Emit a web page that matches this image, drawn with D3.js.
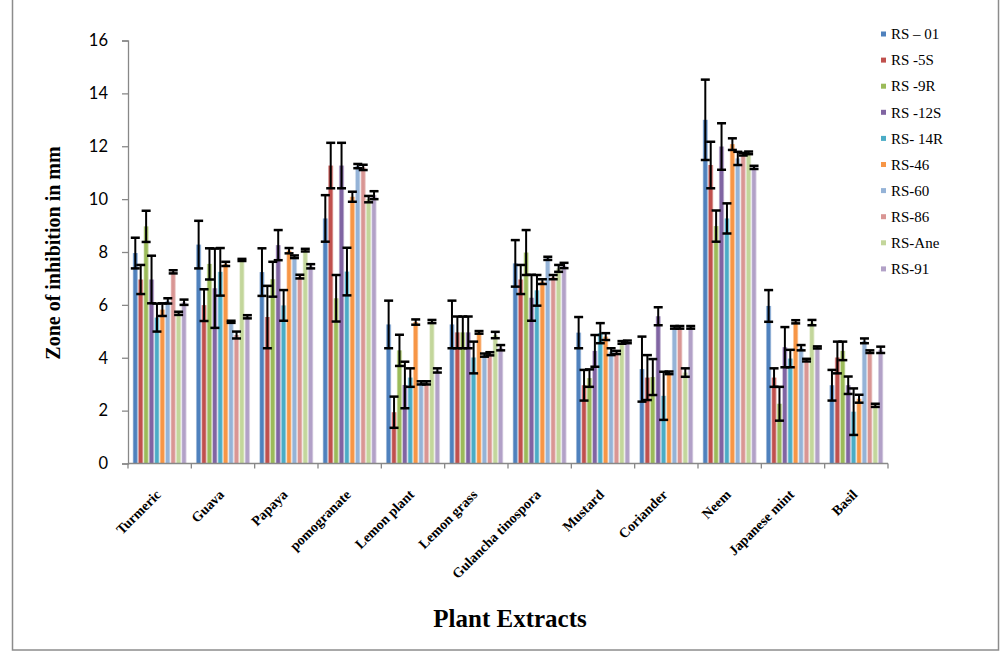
<!DOCTYPE html>
<html>
<head>
<meta charset="utf-8">
<style>
  body { margin: 0; background: #fff; }
  svg { display: block; }
  .ytick text { font-family: Lato, "Open Sans", sans-serif; font-size: 16.5px; fill: #000; }
  .xlab { font-family: "Liberation Serif", "Times New Roman", serif; font-weight: bold; font-size: 14px; }
  .legend text { font-family: "Liberation Serif", "Times New Roman", serif; font-size: 15px; }
</style>
</head>
<body>
<svg id="chart" width="1003" height="658"></svg>
<script src="https://cdnjs.cloudflare.com/ajax/libs/d3/7.8.5/d3.min.js"></script>
<script>
const categories = ["Turmeric", "Guava", "Papaya", "pomogranate", "Lemon plant", "Lemon grass",
  "Gulancha tinospora", "Mustard", "Coriander", "Neem", "Japanese mint", "Basil"];
const seriesNames = ["RS \u2013 01", "RS -5S", "RS -9R", "RS -12S", "RS- 14R", "RS-46", "RS-60", "RS-86", "RS-Ane", "RS-91"];
const seriesColors = ["#4F81BD", "#C0504D", "#9BBB59", "#8064A2", "#4BACC6", "#F79646", "#95B3D7", "#D99694", "#C3D69B", "#B2A1C7"];
const yTicks = [0, 2, 4, 6, 8, 10, 12, 14, 16];

// mean values per series (one per category)
const rs01  = [7.96, 8.28, 7.24, 9.27, 5.26, 5.26, 7.57, 4.95, 3.57, 13.0, 5.96, 2.96];
const rs5s  = [6.96, 5.99, 5.54, 11.27, 1.94, 4.96, 6.96, 2.96, 3.25, 11.29, 3.25, 4.01];
const rs9r  = [8.97, 7.55, 6.97, 6.25, 4.28, 4.96, 7.98, 3.23, 3.27, 8.98, 2.26, 4.26];
const rs12s = [6.96, 6.63, 8.26, 11.27, 2.97, 4.96, 6.27, 4.26, 5.57, 11.99, 4.4, 2.96];
const rs14r = [5.52, 7.25, 5.98, 7.26, 3.25, 4.01, 6.55, 4.93, 2.56, 9.27, 3.97, 1.96];
const rs46  = [5.82, 7.55, 8.05, 10.09, 5.35, 4.96, 6.88, 4.8, 3.43, 12.08, 5.36, 2.45];
const rs60  = [6.15, 5.36, 7.82, 11.25, 3.05, 4.1, 7.76, 4.23, 5.15, 11.54, 4.38, 4.64];
const rs86  = [7.25, 4.86, 7.07, 11.2, 3.05, 4.15, 7.05, 4.2, 5.15, 11.7, 3.91, 4.23];
const rsAne = [5.68, 7.7, 8.07, 10.0, 5.37, 4.86, 7.38, 4.58, 3.44, 11.75, 5.33, 2.2];
const rs91  = [6.1, 5.55, 7.46, 10.15, 3.52, 4.38, 7.49, 4.6, 5.15, 11.2, 4.39, 4.3];

// error (+/-) per series
const err01  = [0.58, 0.9, 0.9, 0.88, 0.9, 0.9, 0.88, 0.59, 1.23, 1.52, 0.6, 0.58];
const err5s  = [0.55, 0.6, 1.18, 0.86, 0.59, 0.6, 0.55, 0.58, 0.85, 0.88, 0.35, 0.6];
const err9r  = [0.59, 0.59, 0.66, 0.88, 0.59, 0.6, 0.85, 0.33, 0.68, 0.59, 0.64, 0.35];
const err12s = [0.9, 1.5, 0.57, 0.86, 0.88, 0.6, 0.87, 0.6, 0.34, 0.88, 0.76, 0.33];
const err14r = [0.53, 0.9, 0.58, 0.9, 0.35, 0.6, 0.58, 0.38, 0.91, 0.57, 0.33, 0.88];
const err46  = [0.24, 0.08, 0.1, 0.19, 0.1, 0.05, 0.09, 0.13, 0.05, 0.22, 0.06, 0.15];
const err60  = [0.1, 0.04, 0.05, 0.08, 0.06, 0.06, 0.06, 0.13, 0.05, 0.25, 0.1, 0.09];
const err86  = [0.06, 0.13, 0.07, 0.1, 0.06, 0.06, 0.08, 0.06, 0.05, 0.05, 0.05, 0.05];
const errAne = [0.06, 0.04, 0.05, 0.12, 0.06, 0.12, 0.13, 0.05, 0.16, 0.05, 0.1, 0.06];
const err91  = [0.1, 0.06, 0.08, 0.15, 0.08, 0.1, 0.1, 0.05, 0.05, 0.06, 0.04, 0.12];

const seriesValues = [rs01, rs5s, rs9r, rs12s, rs14r, rs46, rs60, rs86, rsAne, rs91];
const seriesErrors = [err01, err5s, err9r, err12s, err14r, err46, err60, err86, errAne, err91];

const svg = d3.select("#chart");
const plot = { left: 128, right: 888, top: 40.5, bottom: 463.5 };

// outer frame
svg.append("rect")
  .attr("x", 12.5).attr("y", -2)
  .attr("width", 986).attr("height", 652)
  .attr("fill", "none").attr("stroke", "#8c8c8c").attr("stroke-width", 1.5);

const x0 = d3.scaleBand()
  .domain(categories)
  .range([plot.left, plot.right])
  .paddingInner(0.145)
  .paddingOuter(0.0725);
const x1 = d3.scaleBand()
  .domain(d3.range(seriesNames.length))
  .range([0, x0.bandwidth()]);
const y = d3.scaleLinear().domain([0, 16]).range([plot.bottom, plot.top]);

// soft-edged stripes like the reference bars
const defs = svg.append("defs");
seriesColors.forEach((c, i) => {
  const g = defs.append("linearGradient").attr("id", "g" + i)
    .attr("x1", "0%").attr("x2", "100%").attr("y1", "0%").attr("y2", "0%");
  g.append("stop").attr("offset", "0%").attr("stop-color", c).attr("stop-opacity", 0.25);
  g.append("stop").attr("offset", "25%").attr("stop-color", c).attr("stop-opacity", 1);
  g.append("stop").attr("offset", "70%").attr("stop-color", c).attr("stop-opacity", 1);
  g.append("stop").attr("offset", "100%").attr("stop-color", c).attr("stop-opacity", 0.25);
});

const rows = [];
categories.forEach((cat, ci) => {
  seriesValues.forEach((vals, si) => {
    rows.push({ cat, si, v: vals[ci], e: seriesErrors[si][ci] });
  });
});

// bars
svg.append("g").selectAll("rect")
  .data(rows)
  .join("rect")
  .attr("x", d => x0(d.cat) + x1(d.si))
  .attr("width", x1.bandwidth())
  .attr("y", d => y(d.v))
  .attr("height", d => y(0) - y(d.v))
  .attr("fill", d => "url(#g" + d.si + ")");

// y axis
const yAxis = svg.append("g")
  .attr("class", "ytick")
  .attr("transform", `translate(${plot.left},0)`)
  .call(d3.axisLeft(y).tickValues(yTicks).tickSize(6).tickPadding(14).tickFormat(d3.format("d")));
yAxis.select(".domain").attr("stroke", "#888").attr("stroke-width", 1.3);
yAxis.selectAll(".tick line").attr("stroke", "#888").attr("stroke-width", 1.3);

// x axis with ticks between categories
const xg = svg.append("g");
xg.append("line")
  .attr("x1", plot.left).attr("x2", plot.right)
  .attr("y1", plot.bottom).attr("y2", plot.bottom)
  .attr("stroke", "#888").attr("stroke-width", 1.3);
xg.selectAll(".xt")
  .data(d3.range(categories.length + 1))
  .join("line")
  .attr("x1", i => plot.left + i * x0.step()).attr("x2", i => plot.left + i * x0.step())
  .attr("y1", plot.bottom).attr("y2", plot.bottom + 5)
  .attr("stroke", "#888").attr("stroke-width", 1.3);

// error bars
const eb = svg.append("g").attr("stroke", "#000").attr("stroke-width", 2).attr("fill", "none");
const cap = 4.5;
rows.forEach(d => {
  const cx = x0(d.cat) + x1(d.si) + x1.bandwidth() / 2;
  const hi = y(d.v + d.e), lo = y(d.v - d.e);
  eb.append("line").attr("x1", cx).attr("x2", cx).attr("y1", hi).attr("y2", lo);
  eb.append("line").attr("x1", cx - cap).attr("x2", cx + cap).attr("y1", hi).attr("y2", hi).attr("stroke-width", 2.5);
  eb.append("line").attr("x1", cx - cap).attr("x2", cx + cap).attr("y1", lo).attr("y2", lo).attr("stroke-width", 2.5);
});

// category labels
svg.append("g").selectAll("text")
  .data(categories)
  .join("text")
  .attr("class", "xlab")
  .attr("text-anchor", "end")
  .attr("transform", d => `translate(${x0(d) + x0.bandwidth() / 2 + 2},${plot.bottom + 32}) rotate(-45)`)
  .text(d => d);

// axis titles
svg.append("text")
  .attr("transform", "translate(60,253) rotate(-90)")
  .attr("text-anchor", "middle")
  .style("font-family", '"Liberation Serif", "Times New Roman", serif')
  .style("font-weight", "bold").style("font-size", "20px")
  .text("Zone of inhibition in mm");
svg.append("text")
  .attr("x", 510).attr("y", 627)
  .attr("text-anchor", "middle")
  .style("font-family", '"Liberation Serif", "Times New Roman", serif')
  .style("font-weight", "bold").style("font-size", "25px")
  .text("Plant Extracts");

// legend
const lg = svg.append("g").attr("class", "legend");
const item = lg.selectAll("g")
  .data(seriesNames)
  .join("g")
  .attr("transform", (d, i) => `translate(881,${34 + i * 26.1})`);
item.append("rect")
  .attr("x", 0).attr("y", -2.5).attr("width", 5).attr("height", 5)
  .attr("fill", (d, i) => seriesColors[i]);
item.append("text")
  .attr("x", 10).attr("dy", "0.35em")
  .text(d => d);
</script>
</body>
</html>
